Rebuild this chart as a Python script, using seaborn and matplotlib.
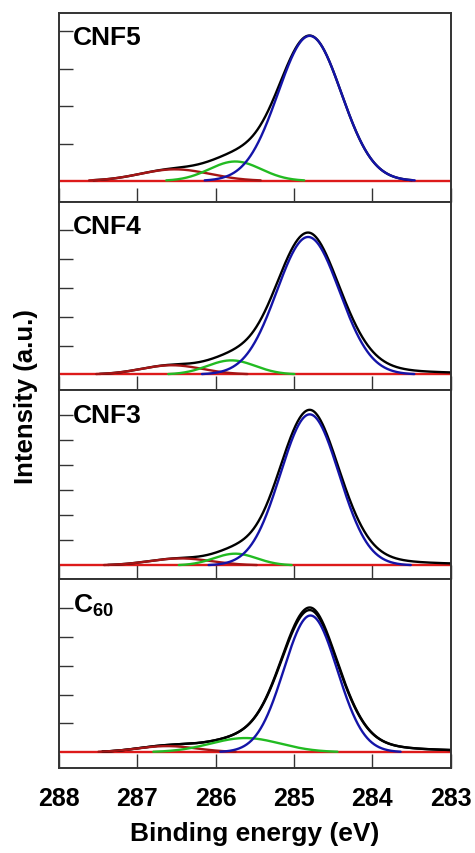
import numpy as np
import pandas as pd
import seaborn as sns
import matplotlib.pyplot as plt

sns.set_style('ticks')
plt.rcParams['font.family'] = ['Liberation Sans', 'DejaVu Sans']
plt.rcParams['mathtext.fontset'] = 'custom'
plt.rcParams['mathtext.rm'] = 'Liberation Sans:bold'
plt.rcParams['mathtext.bf'] = 'Liberation Sans:bold'
plt.rcParams['mathtext.default'] = 'bf'
plt.rcParams['text.color'] = 'black'
plt.rcParams['axes.labelcolor'] = 'black'
plt.rcParams['xtick.color'] = 'black'

# C1s peak fits (eV, arbitrary intensity units)
samples = ['CNF5', 'CNF4', 'CNF3', 'C$_{60}$']

# main C=C component (blue)
main_center = [284.80, 284.82, 284.80, 284.79]
main_height = [3.88, 4.77, 6.04, 4.74]
main_fwhm = [0.95, 0.94, 0.88, 0.80]

# C-O component (green)
mid_center = [285.75, 285.80, 285.75, 285.62]
mid_height = [0.52, 0.49, 0.47, 0.49]
mid_fwhm = [0.78, 0.72, 0.65, 1.05]

# C=O component (dark red)
high_center = [286.52, 286.56, 286.45, 286.62]
high_height = [0.31, 0.32, 0.28, 0.21]
high_fwhm = [1.05, 0.92, 0.95, 0.90]

# measured envelope (black), C60 shows two traces
env_height = [[3.88], [4.92], [6.22], [4.84, 4.93]]
env_fwhm = [0.95, 0.97, 0.91, 0.86]
env_tail = [0.0, 0.22, 0.22, 0.28]

x_ticks = [288, 287, 286, 285, 284, 283]
y_top = [4.5, 6.0, 7.0, 6.0]

energy = np.linspace(288, 283, 1001)


def gauss(x, c, h, w):
    return h * np.exp(-4 * np.log(2) * ((x - c) / w) ** 2)


def envelope(x, c, h, w, eta):
    # gaussian core, lorentzian tail only on the low binding energy side
    g = np.exp(-4 * np.log(2) * ((x - c) / w) ** 2)
    l = 1 / (1 + 4 * ((x - c) / w) ** 2)
    e = np.where(x < c, eta, 0.0)
    return h * ((1 - e) * g + e * l)


def draw(ax, y, color, cut=0.015, lw=1.7):
    y = np.where(y > cut, y, np.nan)
    d = pd.DataFrame({'x': energy, 'y': y}).dropna()
    sns.lineplot(data=d, x='x', y='y', ax=ax, color=color, lw=lw,
                 sort=False, estimator=None)


fig, axes = plt.subplots(4, 1, sharex=True, figsize=(4.75, 8.54), dpi=100)
plt.subplots_adjust(left=0.124, right=0.949, top=0.984, bottom=0.0995, hspace=0)

for i, ax in enumerate(axes):
    blue = gauss(energy, main_center[i], main_height[i], main_fwhm[i])
    green = gauss(energy, mid_center[i], mid_height[i], mid_fwhm[i])
    red = gauss(energy, high_center[i], high_height[i], high_fwhm[i])

    ax.axhline(0, color='#dd1a1a', lw=1.7, zorder=1)
    for h in env_height[i]:
        black = envelope(energy, main_center[i], h, env_fwhm[i], env_tail[i]) + green + red
        draw(ax, black, 'black', cut=0.02)
    draw(ax, red, '#a51515')
    draw(ax, green, '#22bb22')
    draw(ax, blue, '#1414a8')

    ax.set_xlim(288, 283)
    ax.set_ylim(-0.55, y_top[i])
    ax.set_yticks(np.arange(1, y_top[i]))
    ax.set_yticklabels([])
    ax.set_xticks(x_ticks)
    ax.set_xlabel('')
    ax.set_ylabel('')
    ax.tick_params(direction='in', length=10, width=1, color='#333333')
    ax.tick_params(axis='x', labelsize=18, pad=13)
    for s in ax.spines.values():
        s.set_color('#333333')
        s.set_linewidth(1.4)
    ax.text(0.035, 0.935, samples[i], transform=ax.transAxes, fontsize=19,
            fontweight='bold', va='top', ha='left')

axes[-1].set_xticklabels([str(t) for t in x_ticks], fontweight='bold')
axes[-1].set_xlabel('Binding energy (eV)', fontsize=19, fontweight='bold', labelpad=8)
fig.text(0.054, 0.536, 'Intensity (a.u.)', rotation=90, va='center', ha='center',
         fontsize=18.5, fontweight='bold')

plt.savefig('out.png', dpi=100)
